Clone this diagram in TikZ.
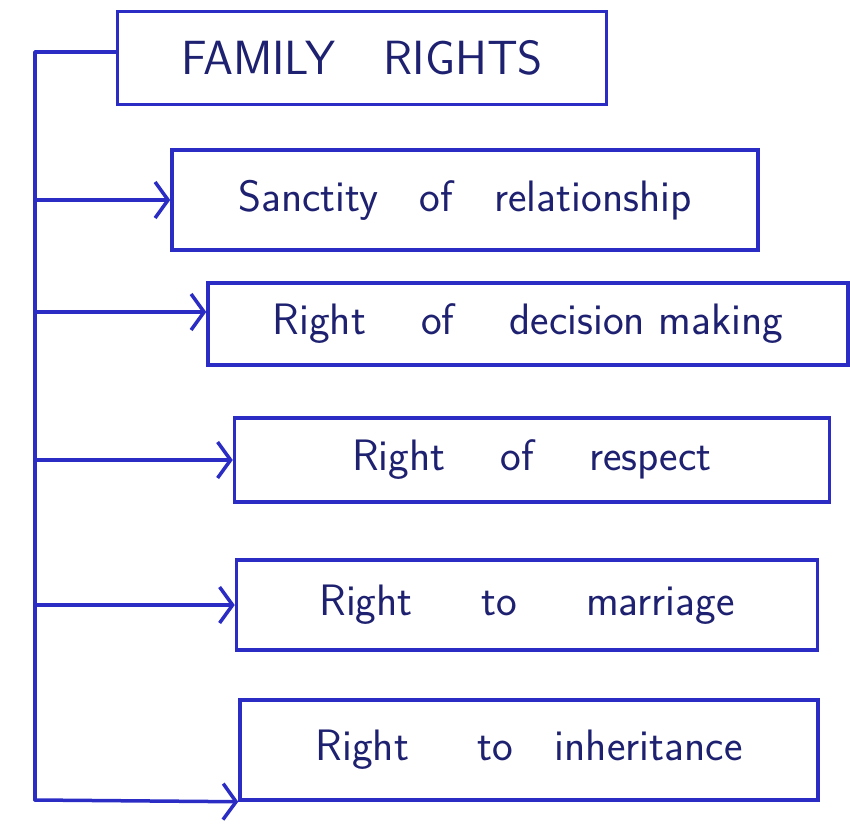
\documentclass[tikz,border=0pt]{standalone}
\usepackage{tikz}
\usetikzlibrary{arrows.meta, positioning}
\definecolor{mink}{HTML}{2A2CC4}
\definecolor{mpen}{HTML}{1E2070}
\tikzstyle{heading} = [rectangle, draw = mink, line width = 3.5pt, minimum width = 489pt, minimum height = 93pt, text = mpen, font = \sffamily\fontsize{48}{52}\selectfont]
\tikzstyle{right box} = [rectangle, draw = mink, line width = 3.5pt, text = mpen, font = \sffamily\fontsize{44}{48}\selectfont]
\tikzstyle{wire} = [draw = mink, line width = 3.5pt, line cap = round, line join = round]
\tikzstyle{pointer} = [wire, -{Straight Barb[length=13pt, width=36pt, line width=3.5pt]}]

\begin{document}
\begin{tikzpicture}[x=1pt, y=-1pt]
  \useasboundingbox (0,0) rectangle (850,826);
  \node (title) [heading] at (362,58) {FAMILY\quad RIGHTS};
  \node (sanct) [right box, minimum width = 586pt, minimum height = 100pt] at (465,200) {Sanctity\ \ \ of\ \ \ relationship};
  \node (decis) [right box, minimum width = 640pt, minimum height = 82pt] at (528,324) {Right\ \ \ \ of\ \ \ \ decision making};
  \node (resp) [right box, minimum width = 595pt, minimum height = 84pt] at (532,460) {Right\ \ \ \ of\ \ \ \ respect};
  \node (marr) [right box, minimum width = 581pt, minimum height = 90pt] at (527,605) {Right\ \ \ \ \ to\ \ \ \ \ marriage};
  \node (inher) [right box, minimum width = 578pt, minimum height = 100pt] at (529,750) {Right\ \ \ \ \ to\ \ \ inheritance};
  % spine on the left
  \coordinate (top) at (35,52);
  \coordinate (bot) at (35,800);
  \draw [wire] (title.west |- top) -- (top) -- (bot);
  \draw [pointer] (top |- sanct.west) -- (sanct.west);
  \draw [pointer] ([yshift=12pt]top |- decis.west) -- ([yshift=12pt]decis.west);
  \draw [pointer] (top |- resp.west) -- (resp.west);
  \draw [pointer] (top |- marr.west) -- (marr.west);
  \draw [pointer] (bot) -- (inher.south west);
\end{tikzpicture}
\end{document}
